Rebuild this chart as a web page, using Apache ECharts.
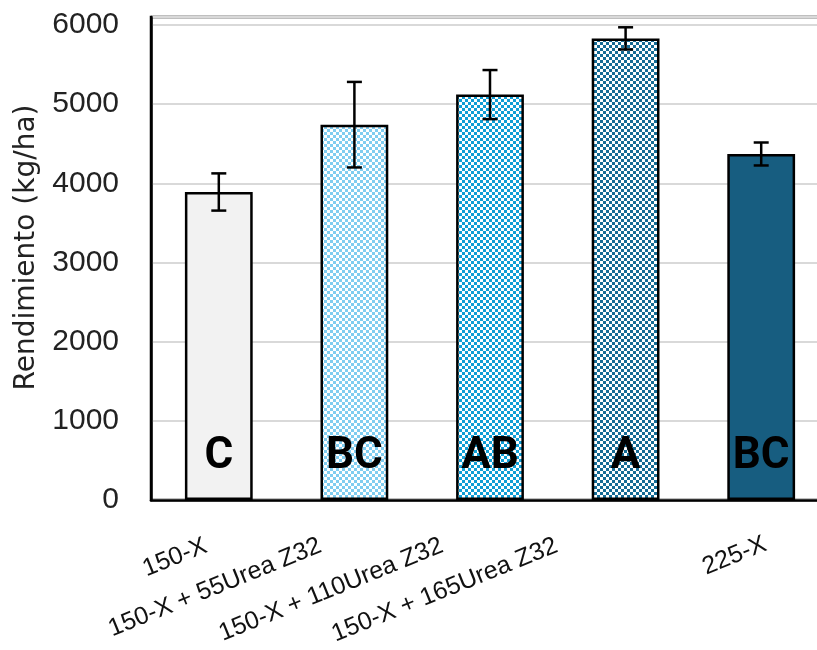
<!DOCTYPE html>
<html>
<head>
<meta charset="utf-8">
<script src="https://cdn.jsdelivr.net/npm/echarts@6/dist/echarts.min.js"></script>
<style>
html,body{margin:0;padding:0;background:#fff;}
#chart{width:817px;height:650px;}
</style>
</head>
<body>
<div id="chart"></div>
<script>
var categories = ['150-X', '150-X + 55Urea Z32', '150-X + 110Urea Z32', '150-X + 165Urea Z32', '225-X'];
var yieldValues = [3890, 4740, 5120, 5830, 4370];
var yieldErrors = [235, 540, 310, 140, 145];
var letters = ['C', 'BC', 'AB', 'A', 'BC'];
var yTicks = [0, 1000, 2000, 3000, 4000, 5000, 6000];

function checker(color, bg, cell) {
  var c = document.createElement('canvas');
  c.width = cell * 2; c.height = cell * 2;
  var ctx = c.getContext('2d');
  ctx.fillStyle = bg; ctx.fillRect(0, 0, cell * 2, cell * 2);
  ctx.fillStyle = color;
  ctx.fillRect(0, 0, cell, cell);
  ctx.fillRect(cell, cell, cell, cell);
  return { image: c, repeat: 'repeat' };
}
var fills = [
  '#f2f2f2',
  checker('#7fcdf0', '#ffffff', 3),
  checker('#0f9ed5', '#ffffff', 3),
  checker('#156b95', '#ffffff', 3),
  '#175d80'
];

// horizontal shift (px, to the left) of each rotated category label, as in the reference
var labelShift = [13, 34, 48, 69, -5];
var ROT = 22;
var rad = ROT * Math.PI / 180;

var chart = echarts.init(document.getElementById('chart'), null, { renderer: 'canvas' });
var font = '"Liberation Sans", Arial, sans-serif';
chart.setOption({
  animation: false,
  grid: { left: 151, top: 17, width: 678, bottom: 150, outerBoundsMode: 'none', containLabel: false,
    show: true, borderColor: '#000', borderWidth: 2.5, backgroundColor: 'transparent' },
  xAxis: {
    type: 'category',
    data: categories.map(function (c, i) {
      var d = labelShift[i];
      var ts = { padding: [0, d * Math.cos(rad), 0, 0] };
      if (d > 0) { ts.lineHeight = 2 * d * Math.sin(rad); }
      return { value: c, textStyle: ts };
    }),
    axisLine: { show: true, lineStyle: { color: '#000', width: 2.5 } },
    axisTick: { show: false },
    axisLabel: { rotate: ROT, margin: 45, fontFamily: font, fontSize: 25, color: '#111', interval: 0,
      formatter: function (v, i) { return labelShift[i] > 0 ? v + '\n ' : v; } }
  },
  yAxis: {
    type: 'value', min: 0, max: 6100, interval: 1000,
    name: 'Rendimiento (kg/ha)', nameLocation: 'middle', nameGap: 110,
    nameTextStyle: { fontFamily: '"DejaVu Sans", sans-serif', fontSize: 28, color: '#222', padding: [0, 0, 0, 22] },
    axisLine: { show: true, lineStyle: { color: '#000', width: 2.5 } },
    axisTick: { show: false },
    axisLabel: { fontFamily: font, fontSize: 30, color: '#222', margin: 32, showMaxLabel: false,
      formatter: function (v) { return yTicks.indexOf(v) >= 0 ? String(v) : ''; } },
    splitLine: { show: true, lineStyle: { color: '#d9d9d9', width: 2 } }
  },
  series: [
    {
      type: 'bar',
      barWidth: '50%',
      data: yieldValues.map(function (v, i) {
        return { value: v, itemStyle: { color: fills[i] } };
      }),
      itemStyle: { borderColor: '#000', borderWidth: 2.5 },
      label: {
        show: true, position: 'insideBottom', distance: 21,
        fontFamily: 'Roboto, "Liberation Sans", sans-serif', fontWeight: 'bold', fontSize: 44, color: '#000',
        formatter: function (p) { return letters[p.dataIndex]; }
      },
      z: 2
    },
    {
      type: 'custom',
      data: yieldValues.map(function (v, i) { return [i, v, yieldErrors[i]]; }),
      renderItem: function (params, api) {
        var x = api.value(0), v = api.value(1), e = api.value(2);
        var hi = api.coord([x, v + e]);
        var lo = api.coord([x, v - e]);
        var hw = 7.5;
        var st = { stroke: '#000', lineWidth: 2.5 };
        return {
          type: 'group',
          children: [
            { type: 'line', shape: { x1: hi[0], y1: hi[1], x2: lo[0], y2: lo[1] }, style: st },
            { type: 'line', shape: { x1: hi[0] - hw, y1: hi[1], x2: hi[0] + hw, y2: hi[1] }, style: st },
            { type: 'line', shape: { x1: lo[0] - hw, y1: lo[1], x2: lo[0] + hw, y2: lo[1] }, style: st }
          ]
        };
      },
      z: 5
    }
  ]
});
</script>
</body>
</html>
